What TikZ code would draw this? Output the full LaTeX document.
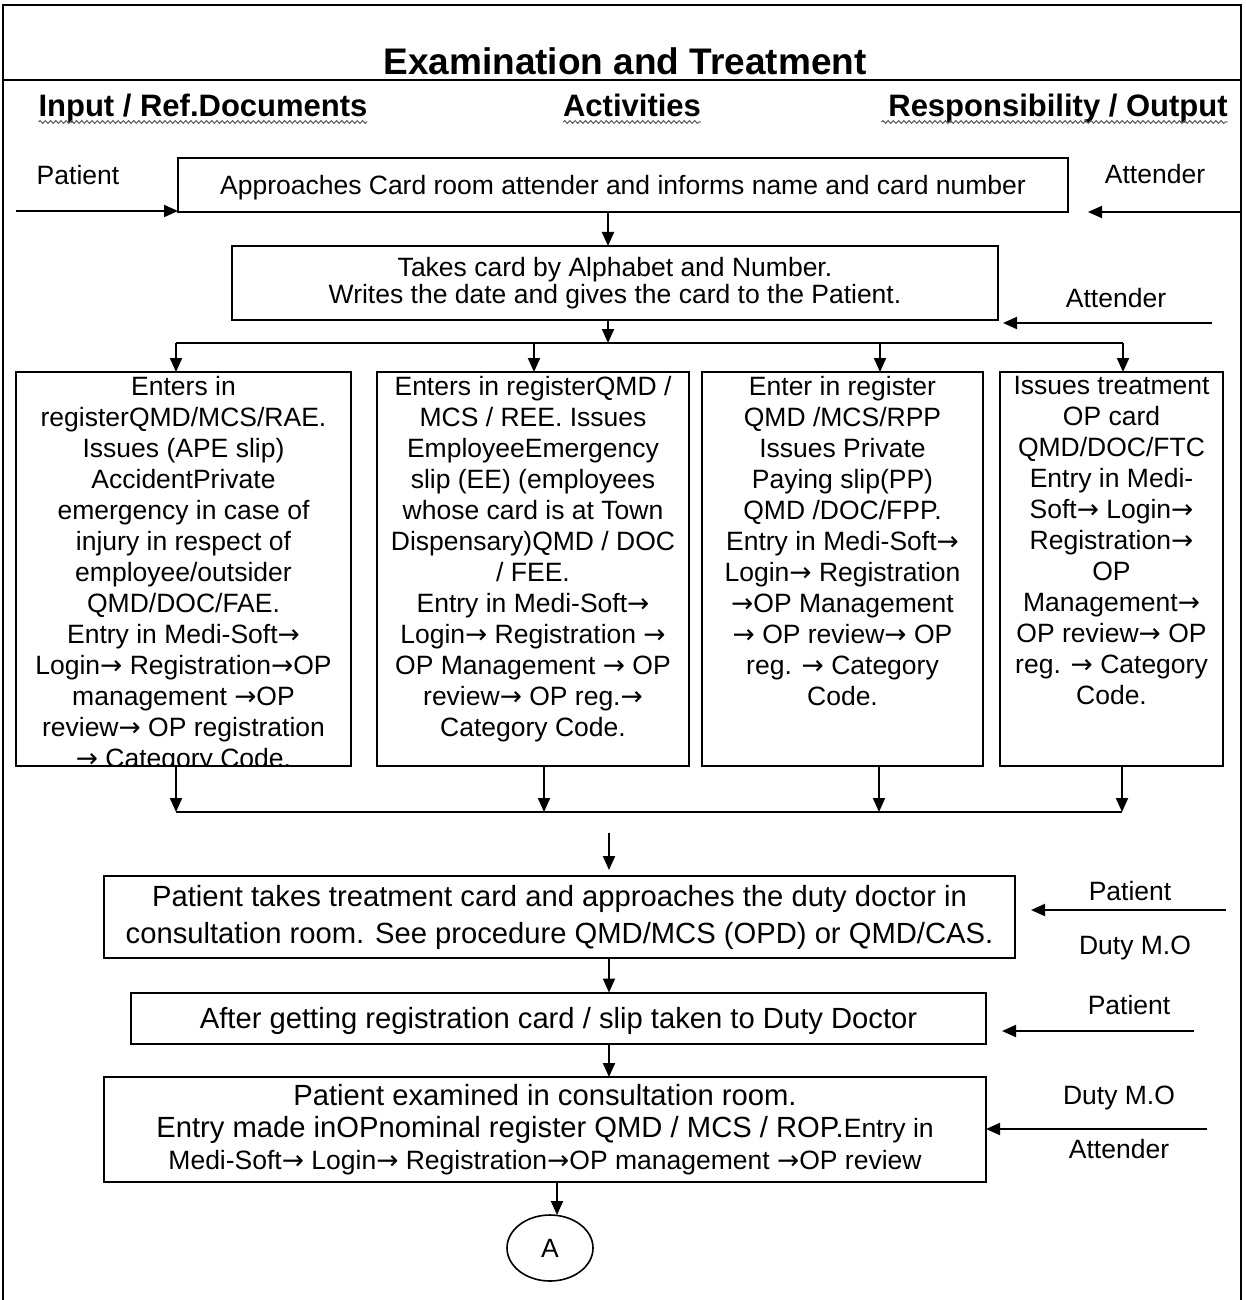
\documentclass[tikz,border=0pt]{standalone}
\usepackage{fontspec}
\setmainfont{Liberation Sans}
\newfontfamily\arrowfont{DejaVu Sans}
\newcommand\rarr{{\arrowfont →}}
\usetikzlibrary{arrows.meta,decorations.pathmorphing,shapes.geometric}
\begin{document}
\begin{tikzpicture}[x=0.5pt,y=-0.5pt,
  every node/.style={inner sep=0pt, outer sep=0pt},
  stepbox/.style={draw, line width=1pt, rectangle, inner sep=0pt},
  arr/.style={line width=1pt, -{Triangle[length=7pt,width=6pt]}},
  plain/.style={line width=1pt},
  frame/.style={line width=1.4pt},
  small/.style={font=\fontsize{13.25}{15.5}\selectfont},
  big/.style={font=\fontsize{14.6}{18.5}\selectfont},
  head/.style={font=\bfseries\fontsize{15.5}{18}\selectfont, anchor=base},
  lbl/.style={font=\fontsize{13.25}{15.5}\selectfont, anchor=base},
  wavy/.style={draw=black!65, line width=0.5pt, decorate,
    decoration={snake, amplitude=0.7pt, segment length=2.6pt}},
]
\useasboundingbox (0,0) rectangle (1246,1300);

% outer frame and header rule
\coordinate (tl) at (3,5);
\coordinate (tr) at (1241,5);
\coordinate (bl) at (3,1300);
\coordinate (br) at (1241,1300);
\coordinate (sepl) at (3,80);
\coordinate (sepr) at (1241,80);
\draw[frame] (bl) -- (tl) -- (tr) -- (br);
\draw[frame] (sepl) -- (sepr);

% title and column headings
\node[font=\bfseries\fontsize{18.5}{22}\selectfont, anchor=base] (title) at (625,75) {Examination and Treatment};
\node[head] (hin) at (203,117) {Input / Ref.Documents};
\node[head] (hact) at (632,117) {Activities};
\node[head] (hres) at (1058,117) {Responsibility / Output};
\coordinate (ul) at (0,122);
\draw[wavy] (hin.west |- ul) -- (hin.east |- ul);
\draw[wavy] (hact.west |- ul) -- (hact.east |- ul);
\draw[wavy] ([xshift=-3.5pt]hres.west |- ul) -- (hres.east |- ul);

% first two steps
\node[stepbox, small, minimum width=445pt, minimum height=27pt, text depth=0pt] (b1) at (623,185)
  {Approaches Card room attender and informs name and card number};
\node[stepbox, minimum width=383pt, minimum height=37pt, align=center,
  font=\fontsize{13.25}{13.5}\selectfont] (b2) at (615,283)
  {Takes card by Alphabet and Number.\\Writes the date and gives the card to the Patient.};

\node[lbl] (lp1) at (78,185) {Patient};
\node[lbl] (la1) at (1155,184) {Attender};
\node[lbl] (la2) at (1116,307) {Attender};
\coordinate (p1s) at (16,211);
\coordinate (a1s) at (1240,212);
\coordinate (a2s) at (1212,323);
\draw[arr] (p1s) -- (p1s -| b1.west);
\draw[arr, shorten >=10pt] (a1s) -- (a1s -| b1.east);
\draw[arr] (a2s) -- (1003,323);

\coordinate (sp) at (608,0);
\draw[arr] (b1.south -| sp) -- (b2.north -| sp);

% distribution to the four registers
\coordinate (dl) at (176,343);
\coordinate (dr) at (1123,343);
\draw[arr] (b2.south -| sp) -- (sp |- dl);
\draw[plain] (dl) -- (dr);

\node[stepbox, minimum width=167.5pt, minimum height=197pt] (bA) at (183.5,569) {};
\node[stepbox, minimum width=156pt, minimum height=197pt] (bB) at (533,569) {};
\node[stepbox, minimum width=140.5pt, minimum height=197pt] (bC) at (842.5,569) {};
\node[stepbox, minimum width=111.5pt, minimum height=197pt] (bD) at (1111.5,569) {};

\begin{scope}
\clip (bA.south west) rectangle (bA.north east);
\node[small, align=center, anchor=north] (tA) at (183.5,376)
  {Enters in\\registerQMD/MCS/RAE.\\Issues (APE slip)\\AccidentPrivate\\emergency in case of\\injury in respect of\\employee/outsider\\QMD/DOC/FAE.\\Entry in Medi-Soft\rarr\\Login\rarr{} Registration\rarr OP\\management \rarr OP\\review\rarr{} OP registration\\\rarr{} Category Code.};
\end{scope}
\node[small, align=center, anchor=north] (tB) at (533,376)
  {Enters in registerQMD /\\MCS / REE. Issues\\EmployeeEmergency\\slip (EE) (employees\\whose card is at Town\\Dispensary)QMD / DOC\\/ FEE.\\Entry in Medi-Soft\rarr\\Login\rarr{} Registration \rarr\\OP Management \rarr{} OP\\review\rarr{} OP reg.\rarr\\Category Code.};
\node[small, align=center, anchor=north] (tC) at (842.5,376)
  {Enter in register\\QMD /MCS/RPP\\Issues Private\\Paying slip(PP)\\QMD /DOC/FPP.\\Entry in Medi-Soft\rarr\\Login\rarr{} Registration\\\rarr OP Management\\\rarr{} OP review\rarr{} OP\\reg. \rarr{} Category\\Code.};
\node[small, align=center, anchor=north] (tD) at (1111.5,376)
  {Issues treatment\\OP card\\QMD/DOC/FTC\\Entry in Medi-\\Soft\rarr{} Login\rarr\\Registration\rarr\\OP\\Management\rarr\\OP review\rarr{} OP\\reg. \rarr{} Category\\Code.};

\coordinate (xA) at (176,0);
\coordinate (xB) at (534,0);
\coordinate (xC) at (880,0);
\coordinate (xD) at (1123,0);
\draw[arr] (dl -| xA) -- (bA.north -| xA);
\draw[arr] (dl -| xB) -- (bB.north -| xB);
\draw[arr] (dl -| xC) -- (bC.north -| xC);
\draw[arr] (dl -| xD) -- (bD.north -| xD);

% collecting line
\coordinate (cl) at (176,812);
\coordinate (cr) at (1122,812);
\coordinate (yA) at (176,0);
\coordinate (yB) at (544,0);
\coordinate (yC) at (879,0);
\coordinate (yD) at (1122,0);
\draw[arr] (bA.south -| yA) -- (cl -| yA);
\draw[arr] (bB.south -| yB) -- (cl -| yB);
\draw[arr] (bC.south -| yC) -- (cl -| yC);
\draw[arr] (bD.south -| yD) -- (cl -| yD);
\draw[plain] (cl) -- (cr);

% consultation steps
\node[stepbox, big, align=center, minimum width=455.5pt, minimum height=41pt] (b5) at (559.5,917)
  {Patient takes treatment card and approaches the duty doctor in\\consultation room. See procedure QMD/MCS (OPD) or QMD/CAS.};
\node[stepbox, big, minimum width=427.5pt, minimum height=25.5pt, text depth=0pt] (b6) at (558.5,1018)
  {After getting registration card / slip taken to Duty Doctor};
\node[stepbox, align=center, minimum width=441pt, minimum height=52.5pt,
  font=\fontsize{14.6}{16}\selectfont] (b7) at (545,1129.5)
  {Patient examined in consultation room.\\
   Entry made inOPnominal register QMD / MCS / ROP.{\fontsize{13.25}{16}\selectfont Entry in}\\
   {\fontsize{13.25}{16}\selectfont Medi-Soft\rarr{} Login\rarr{} Registration\rarr OP management \rarr OP review}};

\coordinate (c5s) at (609,833);
\coordinate (sp2) at (609,0);
\draw[arr, shorten >=3pt] (c5s) -- (b5.north -| c5s);
\draw[arr] (b5.south -| sp2) -- (b6.north -| sp2);
\draw[arr] (b6.south -| sp2) -- (b7.north -| sp2);

\node[lbl] (lp5) at (1130,900) {Patient};
\node[lbl] (ld5) at (1135,954) {Duty M.O};
\node[lbl] (lp6) at (1129,1014) {Patient};
\node[lbl] (ld7) at (1119,1104) {Duty M.O};
\node[lbl] (la7) at (1119,1158) {Attender};
\coordinate (r5s) at (1226,910);
\coordinate (r6s) at (1194,1031);
\coordinate (r7s) at (1207,1129);
\draw[arr, shorten >=8pt] (r5s) -- (r5s -| b5.east);
\draw[arr, shorten >=8pt] (r6s) -- (r6s -| b6.east);
\draw[arr] (r7s) -- (r7s -| b7.east);

% off-page connector
\node[draw, ellipse, line width=0.8pt, minimum width=43pt, minimum height=33pt,
  small, text depth=0pt] (conA) at (550,1248) {A};
\coordinate (xE) at (557,0);
\draw[arr] (b7.south -| xE) -- (conA.north -| xE);
\end{tikzpicture}
\end{document}
